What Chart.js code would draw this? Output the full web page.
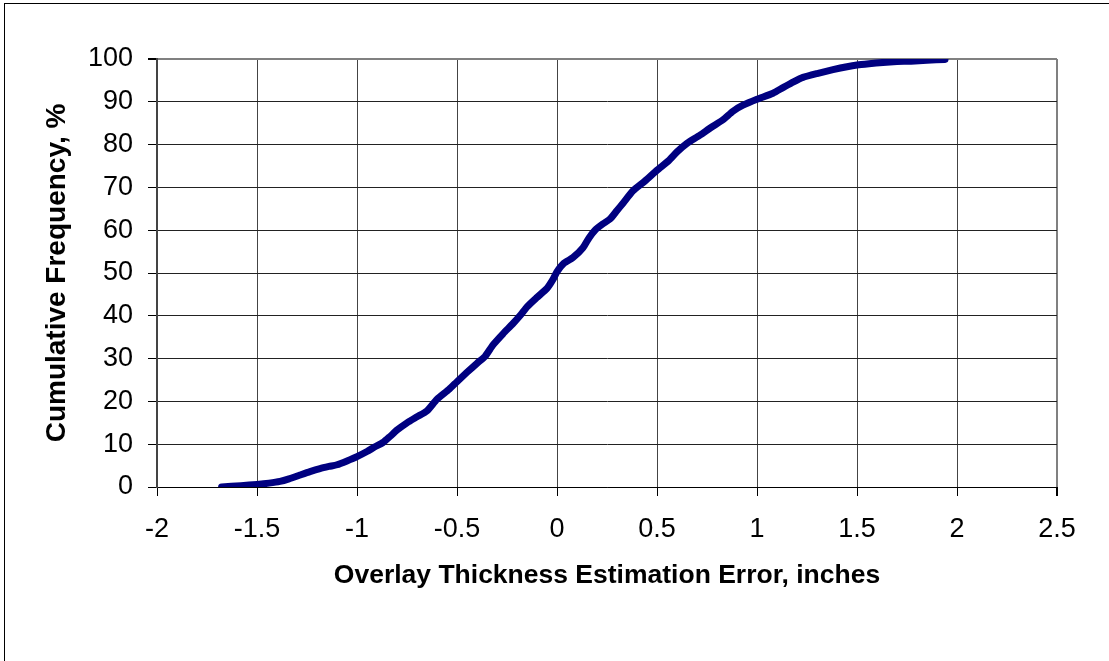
<!DOCTYPE html>
<html>
<head>
<meta charset="utf-8">
<script src="https://cdn.jsdelivr.net/npm/chart.js@4/dist/chart.umd.min.js"></script>
<style>
  html, body { margin: 0; padding: 0; background: #fff; overflow: hidden; }
  #wrap { position: relative; width: 1109px; height: 661px; }
  #frame { position: absolute; left: 4px; top: 3px; width: 1200px; height: 800px; border: 1px solid #000; box-sizing: border-box; pointer-events: none; }
  canvas { position: absolute; left: 0; top: 0; }
</style>
</head>
<body>
<div id="wrap">
  <canvas id="c" width="1109" height="661"></canvas>
  <div id="frame"></div>
</div>
<script>
// Data
const errorInches = [
  -1.677, -1.58, -1.50, -1.44, -1.385, -1.34, -1.285, -1.235, -1.185, -1.14,
  -1.10, -1.05, -1.0, -0.95, -0.91, -0.87, -0.835, -0.80, -0.75, -0.70,
  -0.65, -0.60, -0.54, -0.50, -0.45, -0.40, -0.36, -0.32, -0.27, -0.22,
  -0.18, -0.15, -0.10, -0.05, -0.02, 0.0, 0.035, 0.08, 0.13, 0.16,
  0.19, 0.23, 0.265, 0.30, 0.33, 0.38, 0.44, 0.50, 0.56, 0.60,
  0.65, 0.715, 0.77, 0.83, 0.88, 0.93, 1.0, 1.08, 1.13, 1.18,
  1.23, 1.30, 1.38, 1.45, 1.50, 1.56, 1.63, 1.70, 1.77, 1.85, 1.94
];
const cumulativePct = [
  0, 0.3, 0.6, 0.9, 1.3, 1.9, 2.8, 3.6, 4.3, 4.8,
  5.2, 6.1, 7.1, 8.3, 9.4, 10.4, 11.8, 13.3, 15.0, 16.4,
  17.8, 20.5, 22.8, 24.6, 26.8, 28.9, 30.5, 33.2, 35.8, 38.2,
  40.3, 42.1, 44.3, 46.4, 48.5, 50.3, 52.3, 53.6, 55.9, 58.2,
  60.0, 61.5, 62.6, 64.6, 66.3, 69.2, 71.5, 74.0, 76.3, 78.3,
  80.3, 82.2, 84.0, 85.8, 87.8, 89.2, 90.6, 92.0, 93.3, 94.6,
  95.7, 96.6, 97.5, 98.2, 98.6, 98.9, 99.2, 99.4, 99.5, 99.7, 99.9
];
const xTitle = 'Overlay Thickness Estimation Error, inches';
const yTitle = 'Cumulative Frequency, %';
const xMin = -2, xMax = 2.5, xStep = 0.5;
const yMin = 0, yMax = 100, yStep = 10;

const points = errorInches.map((x, i) => ({ x: x, y: cumulativePct[i] }));

new Chart(document.getElementById('c'), {
  type: 'scatter',
  data: {
    datasets: [{
      data: points,
      showLine: true,
      borderColor: '#000080',
      backgroundColor: '#000080',
      borderWidth: 7,
      pointRadius: 0,
      tension: 0.2,
      borderCapStyle: 'round',
      borderJoinStyle: 'round'
    }]
  },
  options: {
    responsive: false,
    animation: false,
    layout: { padding: { left: 0, top: 59, right: 52, bottom: 0 } },
    plugins: { legend: { display: false }, tooltip: { enabled: false } },
    scales: {
      x: {
        type: 'linear',
        min: xMin, max: xMax,
        ticks: {
          stepSize: xStep,
          color: '#000',
          padding: 17,
          font: { family: 'Liberation Sans, Arial, sans-serif', size: 27 },
          callback: v => String(v)
        },
        grid: {
          color: ctx => (ctx.tick && ctx.tick.value === xMax) ? '#808080' : '#444',
          lineWidth: ctx => (ctx.tick && ctx.tick.value === xMax) ? 2 : 1,
          tickColor: '#000',
          tickLength: 9,
          drawTicks: true
        },
        border: { color: '#000', width: 1 },
        title: {
          display: true,
          text: xTitle,
          color: '#000',
          font: { family: 'Liberation Sans, Arial, sans-serif', size: 26.5, weight: 'bold' },
          padding: { top: 0, bottom: 69 }
        },
        afterFit: s => { s.height = 174; }
      },
      y: {
        type: 'linear',
        min: yMin, max: yMax,
        ticks: {
          stepSize: yStep,
          color: '#000',
          padding: 15,
          font: { family: 'Liberation Sans, Arial, sans-serif', size: 27 }
        },
        grid: {
          color: ctx => (ctx.tick && ctx.tick.value === yMax) ? '#808080' : '#222',
          lineWidth: ctx => (ctx.tick && ctx.tick.value === yMax) ? 2 : 1,
          tickColor: '#000',
          tickLength: 9,
          drawTicks: true
        },
        border: { color: '#444', width: 2 },
        title: {
          display: true,
          text: yTitle,
          color: '#000',
          font: { family: 'Liberation Sans, Arial, sans-serif', size: 28, weight: 'bold' },
          padding: { top: 40, bottom: 0 }
        },
        afterFit: s => { s.width = 157; }
      }
    }
  }
});
</script>
</body>
</html>
